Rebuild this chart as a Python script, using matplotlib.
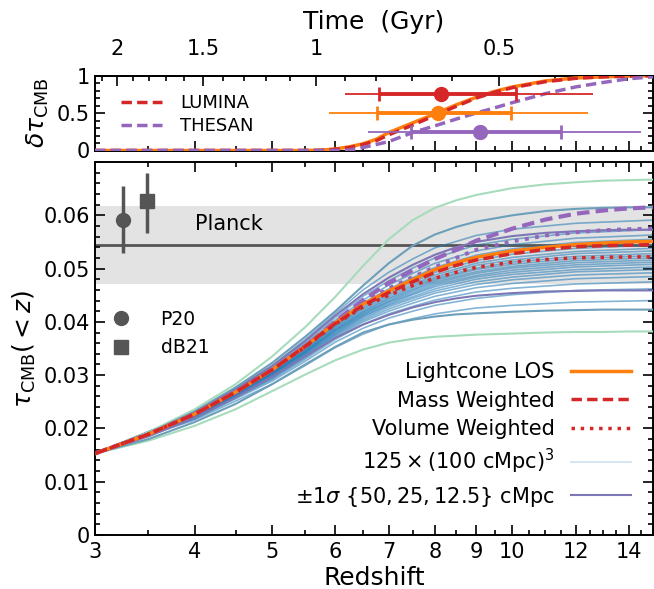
import numpy as np
import matplotlib
matplotlib.use("Agg")
import matplotlib.pyplot as plt
from matplotlib.lines import Line2D
from matplotlib.ticker import FixedLocator, FuncFormatter, MultipleLocator, NullFormatter

# ---- cumulative tau_CMB(<z) ----
Z = [3, 3.5, 4, 4.5, 5, 5.5, 6, 6.5, 7, 7.5, 8, 8.5, 9, 10, 11, 12, 13, 14, 15]
TAU_LIGHTCONE = [.0153, .0189, .0227, .0268, .0310, .0354, .0398, .0433, .0458, .0479,
                 .0498, .0511, .0521, .0533, .0540, .0545, .0548, .0550, .0551]
TAU_MASS_LUMINA = [.0153, .0189, .0227, .0268, .0310, .0354, .0397, .0431, .0455, .0475,
                   .0493, .0506, .0516, .0528, .0536, .0541, .0543, .0544, .0545]
TAU_VOL_LUMINA = [.0153, .0189, .0227, .0268, .0310, .0353, .0396, .0428, .0450, .0468,
                  .0482, .0493, .0502, .0512, .0517, .0520, .0521, .0522, .0522]
TAU_MASS_THESAN = [.0153, .0189, .0227, .0268, .0310, .0354, .0401, .0441, .0473, .0497,
                   .0518, .0535, .0552, .0575, .0592, .0603, .0609, .0613, .0615]
TAU_VOL_THESAN = [.0153, .0189, .0227, .0268, .0310, .0354, .0399, .0435, .0463, .0484,
                  .0503, .0520, .0535, .0551, .0562, .0568, .0572, .0574, .0575]

# +/- 1 sigma box-to-box envelopes for 50, 25, 12.5 cMpc
SIG50_HI = [.0153, .0190, .0230, .0273, .0317, .0364, .0412, .0452, .0483, .0507,
            .0526, .0540, .0550, .0561, .0567, .0570, .0572, .0573, .0573]
SIG50_LO = [.0153, .0185, .0220, .0258, .0297, .0335, .0370, .0395, .0413, .0427,
            .0437, .0444, .0449, .0454, .0457, .0458, .0459, .0459, .0459]
SIG25_HI = [.0153, .0191, .0232, .0277, .0323, .0372, .0420, .0468, .0510, .0543,
            .0564, .0578, .0588, .0600, .0608, .0612, .0614, .0615, .0615]
SIG25_LO = [.0153, .0180, .0212, .0246, .0283, .0320, .0353, .0380, .0395, .0404,
            .0410, .0414, .0416, .0419, .0421, .0422, .0423, .0423, .0423]
SIG12_HI = [.0153, .0193, .0236, .0283, .0335, .0390, .0447, .0505, .0555, .0591,
            .0614, .0628, .0638, .0651, .0658, .0662, .0665, .0666, .0667]
SIG12_LO = [.0153, .0177, .0205, .0236, .0270, .0301, .0328, .0348, .0361, .0368,
            .0372, .0374, .0376, .0378, .0380, .0381, .0381, .0382, .0382]

# individual (100 cMpc)^3 boxes (sample of the bundle), tau in units of 1e-4
Z_BOX = [3, 4, 5, 5.5, 6, 6.5, 7, 7.5, 8, 9, 10, 12, 15]
BOX_TAU_1E4 = [
    [153, 216, 283, 318, 352, 377, 395, 406, 415, 426, 431, 437, 440],
    [153, 218, 289, 326, 362, 388, 407, 420, 431, 444, 451, 459, 462],
    [153, 219, 292, 330, 367, 395, 415, 429, 441, 456, 463, 471, 475],
    [153, 220, 294, 333, 371, 400, 420, 435, 448, 464, 472, 481, 485],
    [153, 221, 296, 335, 374, 403, 424, 440, 454, 470, 479, 488, 492],
    [153, 222, 297, 337, 376, 406, 428, 444, 458, 475, 484, 494, 498],
    [153, 222, 298, 339, 378, 409, 431, 447, 462, 480, 489, 498, 503],
    [153, 223, 300, 340, 380, 411, 433, 451, 466, 484, 493, 503, 508],
    [153, 223, 301, 342, 382, 413, 436, 453, 469, 487, 497, 507, 512],
    [153, 223, 302, 343, 384, 415, 438, 456, 472, 491, 501, 511, 516],
    [153, 224, 303, 344, 385, 417, 440, 459, 475, 494, 504, 515, 520],
    [153, 224, 304, 345, 387, 419, 443, 461, 478, 498, 508, 519, 524],
    [153, 225, 304, 347, 389, 421, 445, 464, 481, 501, 512, 523, 528],
    [153, 225, 306, 348, 391, 424, 448, 467, 484, 506, 516, 528, 533],
    [153, 226, 307, 350, 393, 426, 451, 470, 488, 510, 521, 532, 538],
    [153, 226, 308, 352, 395, 429, 454, 474, 493, 515, 527, 538, 544],
    [153, 227, 311, 355, 400, 436, 462, 483, 502, 525, 537, 549, 555],
    [153, 228, 312, 358, 403, 441, 469, 491, 510, 533, 545, 557, 563],
    [153, 229, 314, 361, 408, 448, 477, 501, 520, 544, 555, 567, 573],
    [153, 230, 318, 367, 416, 460, 493, 518, 539, 562, 574, 585, 591],
]

# ---- normalised delta tau (top panel) ----
Z_DT = [3, 5.5, 5.75, 6, 6.25, 6.5, 6.75, 7, 7.5, 8, 8.5, 9, 9.5, 10, 11, 12, 13, 14, 15]
DT_LIGHTCONE = [0, 0, .005, .02, .05, .09, .15, .24, .37, .49, .61, .71, .79, .85,
                .93, .97, .985, .995, 1.0]
DT_LUMINA = [0, 0, .003, .015, .04, .08, .13, .21, .34, .47, .59, .70, .78, .84,
             .92, .965, .985, .995, 1.0]
DT_THESAN = [0, 0, 0, 0, .005, .04, .08, .12, .24, .33, .42, .50, .57, .64,
             .76, .85, .91, .96, .985]

# midpoints with 68% (thick) and 95% (thin) ranges
EB_Y = [0.75, 0.5, 0.25]
EB_MID = [8.15, 8.07, 9.1]
EB_68 = [(6.8, 10.1), (6.76, 9.97), (7.47, 11.5)]
EB_95 = [(6.17, 12.6), (5.9, 12.45), (6.6, 14.5)]
EB_COLORS = ["#d62728", "#ff7f0e", "#9467bd"]

# observational constraints
PLANCK_TAU, PLANCK_ERR = 0.0544, 0.0073
OBS_NAMES = ["P20", "dB21"]
OBS_Z = [3.25, 3.49]
OBS_TAU = [0.0592, 0.0627]
OBS_ERR_LO = [0.0063, 0.0060]
OBS_ERR_HI = [0.0063, 0.0052]
OBS_MARKERS = ["o", "s"]

Z_TICKS = [3, 4, 5, 6, 7, 8, 9, 10, 12, 14]
Z_MINOR = [3.5, 4.5, 5.5, 6.5, 7.5, 8.5, 9.5, 10.5, 11, 11.5, 12.5, 13, 13.5, 14.5, 15]
T_TICKS = [2, 1.5, 1, 0.5]
T_MINOR = [2.1, 1.9, 1.8, 1.7, 1.6, 1.4, 1.3, 1.2, 1.1, 0.9, 0.8, 0.7, 0.6, 0.4, 0.3]

# flat LCDM age (matter + Lambda) for the top time axis
H0, OM = 67.7, 0.31
OL = 1.0 - OM
T_PREF = 2.0 / (3.0 * np.sqrt(OL)) * 977.79 / H0
B_COS = np.sqrt(OL / OM)


def z_to_t(z):
    z = np.clip(np.asarray(z, dtype=float), 0.0, None)
    return T_PREF * np.arcsinh(B_COS * (1.0 + z) ** -1.5)


def t_to_z(t):
    t = np.clip(np.asarray(t, dtype=float), 1e-4, 13.0)
    return np.maximum((np.sinh(t / T_PREF) / B_COS) ** (-2.0 / 3.0) - 1.0, 1e-4)


def fmt(v, pos):
    return "0" if v == 0 else f"{v:g}"


def style(a, fs=15):
    a.tick_params(which="both", direction="in", right=True, labelsize=fs, width=1.2)
    a.tick_params(which="major", length=7)
    a.tick_params(which="minor", length=3.5)
    for s in a.spines.values():
        s.set_linewidth(1.4)


fig = plt.figure(figsize=(6.54, 5.89), dpi=100)
W, H = 654.0, 589.0
ax_t = fig.add_axes([95 / W, (H - 150.5) / H, 558 / W, 74.8 / H])
ax = fig.add_axes([95 / W, (H - 535) / H, 558 / W, 373 / H])

# ---------------- top panel ----------------
ax_t.plot(Z_DT, DT_LIGHTCONE, "-", color="#ff7f0e", lw=2.5, zorder=3)
ax_t.plot(Z_DT, DT_LUMINA, "--", color="#d62728", lw=2.5, dashes=(3, 1.5), zorder=4,
          label="LUMINA")
ax_t.plot(Z_DT, DT_THESAN, "--", color="#9467bd", lw=2.5, dashes=(3, 1.5), zorder=4,
          label="THESAN")
for y, mid, r68, r95, c in zip(EB_Y, EB_MID, EB_68, EB_95, EB_COLORS):
    ax_t.errorbar([mid], [y], xerr=[[mid - r95[0]], [r95[1] - mid]], fmt="none",
                  ecolor=c, elinewidth=1.3, zorder=5)
    ax_t.errorbar([mid], [y], xerr=[[mid - r68[0]], [r68[1] - mid]], fmt="o",
                  color=c, ms=10, elinewidth=2.8, capsize=5, capthick=2, zorder=6)

ax_t.set_xscale("log")
ax_t.set_xlim(3, 15)
ax_t.set_ylim(0, 1)
ax_t.xaxis.set_major_locator(FixedLocator(Z_TICKS))
ax_t.xaxis.set_minor_locator(FixedLocator(Z_MINOR))
ax_t.yaxis.set_major_locator(FixedLocator([0, 0.5, 1]))
ax_t.yaxis.set_minor_locator(MultipleLocator(0.1))
ax_t.yaxis.set_major_formatter(FuncFormatter(fmt))
style(ax_t)
ax_t.tick_params(which="both", top=False, labelbottom=False)
ax_t.set_ylabel(r"$\delta\tau_{\rm CMB}$", fontsize=18, labelpad=4)
ax_t.legend(loc="upper left", frameon=False, fontsize=13, handlelength=2.3,
            handletextpad=1.0, labelspacing=0.3, borderaxespad=0.4,
            bbox_to_anchor=(0.02, 0.95))

sec = ax_t.secondary_xaxis("top", functions=(z_to_t, t_to_z))
sec.xaxis.set_major_locator(FixedLocator(T_TICKS))
sec.xaxis.set_minor_locator(FixedLocator(T_MINOR))
sec.xaxis.set_major_formatter(FuncFormatter(fmt))
sec.xaxis.set_minor_formatter(NullFormatter())
sec.tick_params(which="both", direction="in", labelsize=15, width=1.2, pad=12)
sec.tick_params(which="major", length=7)
sec.tick_params(which="minor", length=3.5)
sec.spines["top"].set_linewidth(1.4)
sec.set_xlabel("Time  (Gyr)", fontsize=18, labelpad=7)

# ---------------- main panel ----------------
ax.axhspan(PLANCK_TAU - PLANCK_ERR, PLANCK_TAU + PLANCK_ERR, color="#e3e3e3", lw=0, zorder=0)
ax.axhline(PLANCK_TAU, color="#555555", lw=2, zorder=1)
ax.text(4.0, 0.0584, "Planck", fontsize=15, va="center", zorder=2)

for row in BOX_TAU_1E4:
    ax.plot(Z_BOX, np.array(row) / 1e4, color="#1f77b4", alpha=0.55, lw=1.2, zorder=2)
box_handle = Line2D([], [], color="#1f77b4", alpha=0.22, lw=1.2)

sig_sets = [(SIG12_HI, SIG12_LO, "#a6dcbc"),
            (SIG25_HI, SIG25_LO, "#6c9fba"),
            (SIG50_HI, SIG50_LO, "#7c78b6")]
sig_lines = []
for hi, lo, c in sig_sets:
    l1, = ax.plot(Z, hi, color=c, lw=1.5, zorder=3)
    ax.plot(Z, lo, color=c, lw=1.5, zorder=3)
    sig_lines.append(l1)

ax.plot(Z, TAU_MASS_THESAN, "--", color="#9467bd", lw=3, dashes=(3, 1.5), zorder=4)
ax.plot(Z, TAU_VOL_THESAN, ":", color="#9467bd", lw=2.8, zorder=4)
h_lc, = ax.plot(Z, TAU_LIGHTCONE, "-", color="#ff7f0e", lw=2.5, zorder=5)
h_mass, = ax.plot(Z, TAU_MASS_LUMINA, "--", color="#d62728", lw=2.5, dashes=(3, 1.5), zorder=6)
h_vol, = ax.plot(Z, TAU_VOL_LUMINA, ":", color="#d62728", lw=2.5, zorder=6)

obs_handles = []
for name, z, t, lo, hi, m in zip(OBS_NAMES, OBS_Z, OBS_TAU, OBS_ERR_LO, OBS_ERR_HI, OBS_MARKERS):
    ax.errorbar([z], [t], yerr=[[lo], [hi]], fmt=m, color="#555555", ms=10,
                elinewidth=2.5, capsize=0, zorder=7)
    h, = ax.plot([], [], m, color="#555555", ms=10, ls="none", label=name)
    obs_handles.append(h)

ax.set_xscale("log")
ax.set_xlim(3, 15)
ax.set_ylim(0, 0.07)
ax.xaxis.set_major_locator(FixedLocator(Z_TICKS))
ax.xaxis.set_minor_locator(FixedLocator(Z_MINOR))
ax.xaxis.set_major_formatter(FuncFormatter(fmt))
ax.xaxis.set_minor_formatter(NullFormatter())
ax.yaxis.set_major_locator(FixedLocator([0, 0.01, 0.02, 0.03, 0.04, 0.05, 0.06]))
ax.yaxis.set_minor_locator(MultipleLocator(0.002))
ax.yaxis.set_major_formatter(FuncFormatter(fmt))
style(ax)
ax.tick_params(which="both", top=True)
ax.tick_params(axis="x", pad=5)
ax.set_xlabel("Redshift", fontsize=18, labelpad=3)
ax.set_ylabel(r"$\tau_{\rm CMB}(<z)$", fontsize=18, labelpad=4)

leg_obs = ax.legend(handles=obs_handles, loc="center left", bbox_to_anchor=(0.0, 0.54),
                    frameon=False, fontsize=13.5, handlelength=1.0, handletextpad=1.6,
                    labelspacing=0.5)
ax.add_artist(leg_obs)

ax.legend([h_lc, h_mass, h_vol, box_handle, sig_lines[2]],
          ["Lightcone LOS", "Mass Weighted", "Volume Weighted",
           r"$125\times(100\ {\rm cMpc})^3$", r"$\pm1\sigma\ \{50, 25, 12.5\}$ cMpc"],
          loc="lower right", frameon=False, fontsize=15, markerfirst=False,
          handlelength=2.9, handletextpad=0.8, labelspacing=0.4,
          bbox_to_anchor=(0.995, 0.02))

fig.savefig("out.png", dpi=100)
